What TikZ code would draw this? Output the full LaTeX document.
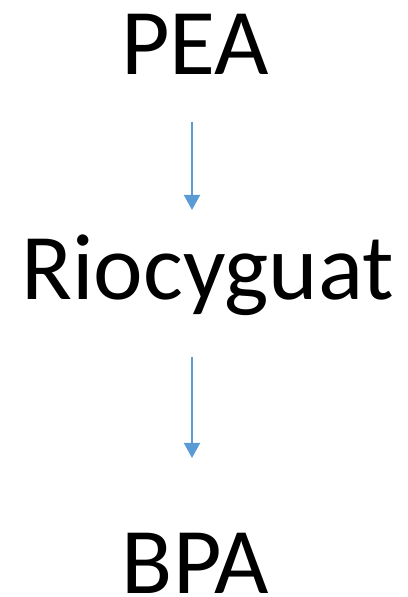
\documentclass[tikz,border=0pt]{standalone}
\usepackage{fontspec}
\setmainfont{Carlito}
\usetikzlibrary{arrows.meta}
\definecolor{arrowblue}{HTML}{5B9BD5}
\begin{document}
\begin{tikzpicture}[x=1pt,y=1pt,
  lbl/.style={font=\fontsize{94}{94}\selectfont, inner sep=0pt, anchor=base, text=black},
  flow/.style={draw=arrowblue, line width=1.8pt, -{Triangle[width=16pt,length=15pt]}}]
\useasboundingbox (0,0) rectangle (407,597);
\node[lbl] (pea) at (195,522) {PEA};
\node[lbl] (rio) at (207.5,297) {Riocyguat};
\node[lbl, text depth=0pt] (bpa) at (195.5,4) {BPA};
\coordinate (a1s) at (192,475);
\coordinate (a1e) at (192,387);
\coordinate (a2s) at (192,240);
\coordinate (a2e) at (192,139);
\draw[flow] (a1s) -- (a1e);
\draw[flow] (a2s) -- (a2e);
\end{tikzpicture}
\end{document}
